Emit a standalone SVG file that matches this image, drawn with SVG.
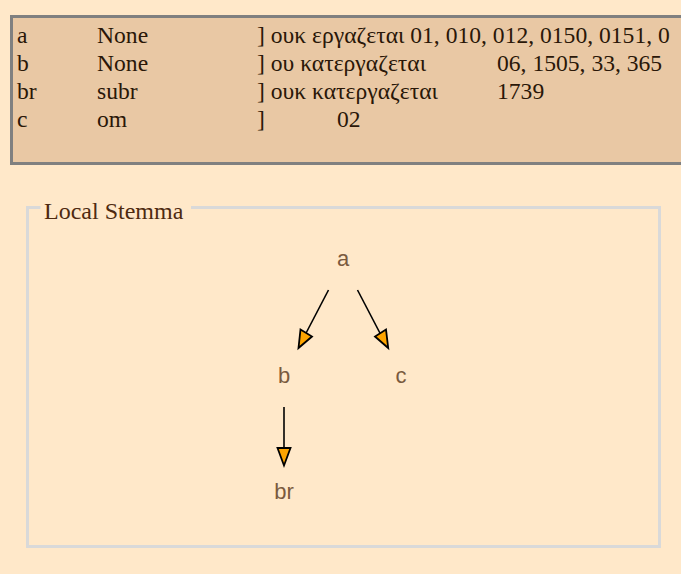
<svg xmlns="http://www.w3.org/2000/svg" width="681" height="574" viewBox="0 0 681 574">
<defs>
<style>
.bg{fill:#FFE8C9}
.tbl{fill:#E9C8A4;stroke:#808080;stroke-width:3}
.t{font-family:'Liberation Serif','DejaVu Serif',serif;font-size:23.6px;fill:#2a1708}
.fs{fill:none;stroke:#D9D9D9;stroke-width:3}
.lg{font-family:'Liberation Serif','DejaVu Serif',serif;font-size:24px;fill:#4e2a10}
.n{font-family:'Liberation Sans',Arial,sans-serif;font-size:22px;fill:#7a5a3e;text-anchor:middle}
.e{stroke:#000;stroke-width:1.6;fill:none}
.h{fill:#FFA500;stroke:#000;stroke-width:1.8;stroke-linejoin:miter}
</style>
</defs>
<rect class="bg" x="0" y="0" width="681" height="574"/>
<g id="table">
<rect class="tbl" x="11.5" y="16.5" width="690" height="147"/>
<text class="t" x="17" y="43">a</text>
<text class="t" x="97" y="43">None</text>
<text class="t" x="257" y="43">] ουκ εργαζεται 01, 010, 012, 0150, 0151, 0</text>
<text class="t" x="17" y="71">b</text>
<text class="t" x="97" y="71">None</text>
<text class="t" x="257" y="71">] ου κατεργαζεται</text>
<text class="t" x="497" y="71">06, 1505, 33, 365</text>
<text class="t" x="17" y="99">br</text>
<text class="t" x="97" y="99">subr</text>
<text class="t" x="257" y="99">] ουκ κατεργαζεται</text>
<text class="t" x="497" y="99">1739</text>
<text class="t" x="17" y="127">c</text>
<text class="t" x="97" y="127">om</text>
<text class="t" x="257" y="127">]</text>
<text class="t" x="337" y="127">02</text>
</g>
<g id="fieldset">
<path class="fs" d="M40.5,207.5 H27.5 V546.5 H659.5 V207.5 H191"/>
<text class="lg" x="44" y="219">Local Stemma</text>
</g>
<g id="connectors">
<line class="e" x1="328.5" y1="290" x2="304" y2="337"/>
<polygon class="h" points="298.5,348 300.5,329.5 312,336.5"/>
<line class="e" x1="357.5" y1="290" x2="382" y2="337"/>
<polygon class="h" points="388.2,348 375,336.5 386,329.5"/>
<line class="e" x1="284" y1="407" x2="284" y2="449"/>
<polygon class="h" points="284,465.5 277.5,448 290.5,448"/>
</g>
<g id="node-a"><text class="n" x="343" y="266">a</text></g>
<g id="node-b"><text class="n" x="284" y="383">b</text></g>
<g id="node-c"><text class="n" x="401" y="383">c</text></g>
<g id="node-br"><text class="n" x="284" y="499">br</text></g>
</svg>
